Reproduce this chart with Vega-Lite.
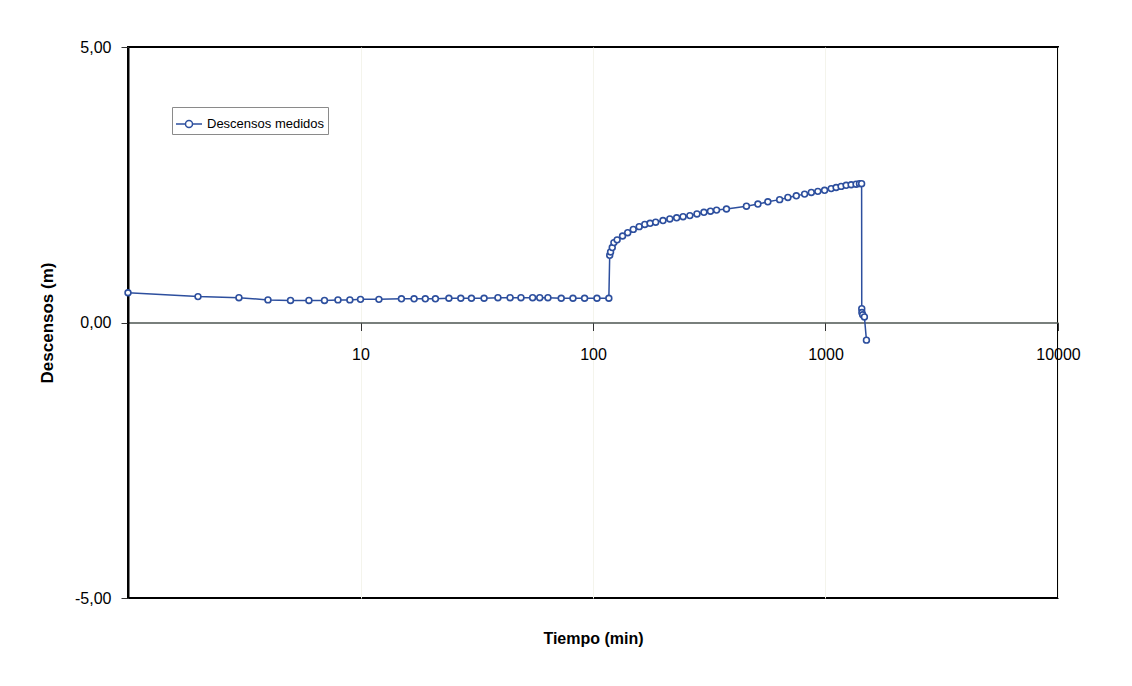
{
  "$schema": "https://vega.github.io/schema/vega-lite/v6.json",
  "autosize": "none",
  "width": 930,
  "height": 551,
  "padding": {"left": 128, "top": 47, "right": 74, "bottom": 88},
  "background": "white",
  "config": {
    "font": "Liberation Sans, Arial, sans-serif",
    "view": {"stroke": "black", "strokeWidth": 2},
    "legend": {
      "orient": "none",
      "legendX": 44,
      "legendY": 60,
      "strokeColor": "#8a8a8a",
      "fillColor": "white",
      "padding": 3,
      "symbolType": "M-1,0H-0.27M0.27,0H1M0.27,0A0.27,0.27,0,1,1,-0.27,0A0.27,0.27,0,1,1,0.27,0Z",
      "symbolSize": 676,
      "symbolStrokeWidth": 1.5,
      "symbolFillColor": "white",
      "labelFontSize": 13,
      "labelColor": "black",
      "labelOffset": 4,
      "title": null
    }
  },
  "data": {
    "values": [
      {"t": 1, "d": 0.54}, {"t": 2, "d": 0.47}, {"t": 3, "d": 0.45}, {"t": 4, "d": 0.41},
      {"t": 5, "d": 0.40}, {"t": 6, "d": 0.40}, {"t": 7, "d": 0.40}, {"t": 8, "d": 0.41},
      {"t": 9, "d": 0.41}, {"t": 10, "d": 0.42}, {"t": 12, "d": 0.42}, {"t": 15, "d": 0.43},
      {"t": 17, "d": 0.43}, {"t": 19, "d": 0.43}, {"t": 21, "d": 0.43}, {"t": 24, "d": 0.44},
      {"t": 27, "d": 0.44}, {"t": 30, "d": 0.44}, {"t": 34, "d": 0.44}, {"t": 39, "d": 0.45},
      {"t": 44, "d": 0.45}, {"t": 49, "d": 0.45}, {"t": 55, "d": 0.45}, {"t": 59, "d": 0.45},
      {"t": 64, "d": 0.45}, {"t": 73, "d": 0.44}, {"t": 82, "d": 0.44}, {"t": 92, "d": 0.44},
      {"t": 104, "d": 0.44}, {"t": 117, "d": 0.44},
      {"t": 118, "d": 1.22}, {"t": 119, "d": 1.28}, {"t": 121, "d": 1.36}, {"t": 123, "d": 1.45},
      {"t": 127, "d": 1.50}, {"t": 134, "d": 1.57}, {"t": 141, "d": 1.63}, {"t": 149, "d": 1.69},
      {"t": 158, "d": 1.74}, {"t": 167, "d": 1.78}, {"t": 176, "d": 1.80}, {"t": 186, "d": 1.82},
      {"t": 200, "d": 1.85}, {"t": 214, "d": 1.88}, {"t": 229, "d": 1.90}, {"t": 244, "d": 1.92},
      {"t": 261, "d": 1.94}, {"t": 280, "d": 1.97}, {"t": 300, "d": 2.00}, {"t": 320, "d": 2.02},
      {"t": 340, "d": 2.04}, {"t": 375, "d": 2.06}, {"t": 457, "d": 2.11}, {"t": 512, "d": 2.15},
      {"t": 565, "d": 2.19}, {"t": 635, "d": 2.23}, {"t": 689, "d": 2.27}, {"t": 749, "d": 2.30},
      {"t": 813, "d": 2.33}, {"t": 869, "d": 2.36}, {"t": 927, "d": 2.38}, {"t": 991, "d": 2.40},
      {"t": 1058, "d": 2.43}, {"t": 1111, "d": 2.45}, {"t": 1167, "d": 2.47}, {"t": 1227, "d": 2.49},
      {"t": 1289, "d": 2.50}, {"t": 1354, "d": 2.51}, {"t": 1400, "d": 2.52}, {"t": 1430, "d": 2.52},
      {"t": 1432, "d": 0.25}, {"t": 1434, "d": 0.18}, {"t": 1445, "d": 0.14}, {"t": 1470, "d": 0.10},
      {"t": 1500, "d": -0.32}
    ]
  },
  "encoding": {
    "x": {
      "field": "t",
      "type": "quantitative",
      "scale": {"type": "log", "domain": [1, 10000], "nice": false},
      "axis": {
        "offset": -275.5,
        "values": [1, 10, 100, 1000, 10000],
        "labelExpr": "datum.value == 1 ? '' : datum.label",
        "format": "d",
        "domainColor": "#4d5550",
        "domainWidth": 1.5,
        "tickColor": "#333",
        "tickSize": 8,
        "tickWidth": 1,
        "labelFontSize": 16,
        "labelColor": "black",
        "labelPadding": 16,
        "labelFlush": false,
        "grid": true,
        "gridColor": "#f4f4ec",
        "gridWidth": 1,
        "title": "Tiempo (min)",
        "titleFontSize": 16,
        "titleFontWeight": "bold",
        "titleColor": "black",
        "titlePadding": 268
      }
    },
    "y": {
      "field": "d",
      "type": "quantitative",
      "scale": {"domain": [-5, 5], "nice": false},
      "axis": {
        "values": [-5, 0, 5],
        "labelExpr": "replace(replace(format(datum.value, '.2f'), '.', ','), '\u2212', '-')",
        "grid": false,
        "domainColor": "black",
        "domainWidth": 2,
        "tickColor": "#333",
        "tickSize": 7,
        "labelFontSize": 16,
        "labelColor": "black",
        "labelPadding": 10,
        "title": "Descensos (m)",
        "titleFontSize": 17,
        "titleFontWeight": "bold",
        "titleColor": "black",
        "titlePadding": 18
      }
    },
    "color": {
      "datum": "Descensos medidos",
      "type": "nominal",
      "scale": {"range": ["#2d4f9e"]}
    }
  },
  "layer": [
    {"mark": {"type": "line", "strokeWidth": 1.5}},
    {"mark": {"type": "point", "shape": "circle", "filled": false, "fill": "white", "size": 34, "strokeWidth": 1.6, "opacity": 1}}
  ]
}
